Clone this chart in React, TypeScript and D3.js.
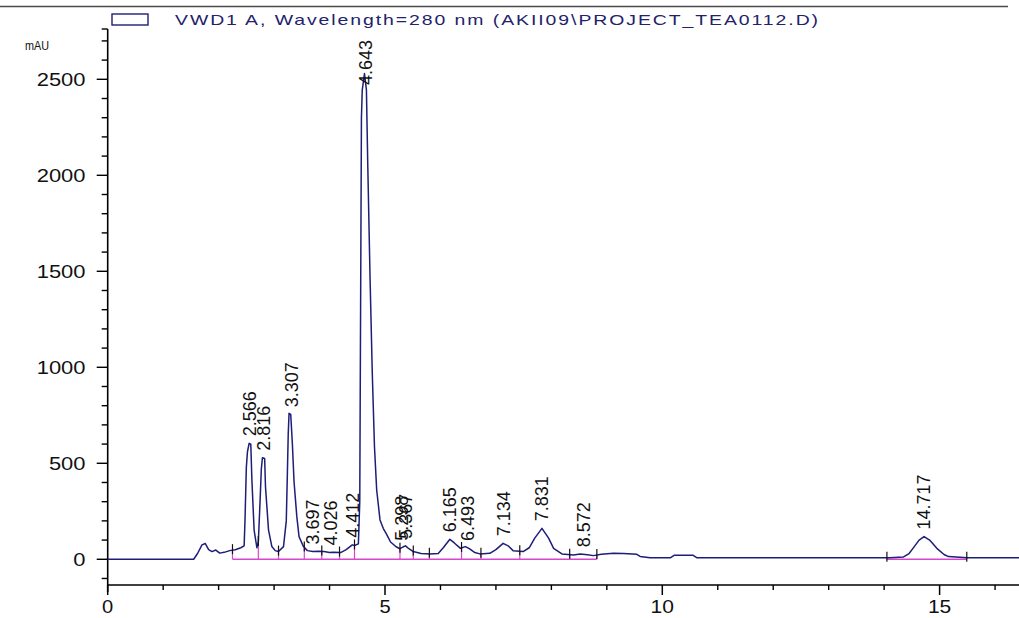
import React from 'react';
import * as d3 from 'd3';

const W = 1019;
const H = 618;

// Chromatogram trace (time in min, signal in mAU)
const times = [
  0, 1.55, 1.62, 1.70, 1.76, 1.82, 1.88, 1.95, 2.02, 2.10, 2.20, 2.30, 2.40, 2.46,
  2.476, 2.50, 2.52, 2.55, 2.58, 2.60, 2.64, 2.69, 2.716, 2.746, 2.77, 2.79, 2.83,
  2.845, 2.90, 2.96, 3.02, 3.08, 3.17, 3.22, 3.24, 3.255, 3.27, 3.30, 3.33, 3.36,
  3.41, 3.45, 3.53, 3.60, 3.70, 3.80, 3.90, 4.00, 4.06, 4.20, 4.30, 4.37, 4.41,
  4.45, 4.52, 4.545, 4.56, 4.575, 4.59, 4.63, 4.665, 4.69, 4.73, 4.77, 4.81, 4.85,
  4.91, 4.97, 5.03, 5.10, 5.20, 5.27, 5.33, 5.37, 5.43, 5.51, 5.65, 5.81, 5.96,
  6.05, 6.17, 6.25, 6.36, 6.45, 6.52, 6.62, 6.71, 6.89, 7.00, 7.13, 7.22, 7.31,
  7.49, 7.60, 7.70, 7.83, 7.95, 8.04, 8.19, 8.40, 8.52, 8.65, 8.76, 8.90, 9.12,
  9.30, 9.54, 9.60, 9.78, 10.15, 10.22, 10.55, 10.62, 14.10, 14.35, 14.45, 14.52,
  14.63, 14.72, 14.82, 14.95, 15.08, 15.16, 15.50, 16.50,
];
const mau = [
  0, 0, 30, 75, 82, 50, 40, 48, 32, 36, 45, 50, 60, 70,
  205, 480, 560, 604, 600, 413, 152, 60, 90, 293, 470, 529, 525,
  378, 152, 66, 45, 40, 66, 200, 450, 650, 760, 755, 600, 404,
  222, 118, 66, 45, 40, 42, 40, 35, 36, 35, 50, 66, 75,
  72, 80, 300, 1310, 2300, 2445, 2530, 2445, 2045, 1472, 977, 587, 361,
  205, 160, 130, 90, 65, 55, 65, 70, 55, 40, 30, 28, 30,
  60, 104, 85, 57, 66, 55, 35, 28, 31, 50, 83, 70, 45,
  40, 60, 110, 161, 110, 57, 28, 22, 28, 24, 19, 26, 31,
  30, 26, 15, 8, 8, 21, 21, 8, 8, 12, 30, 57,
  100, 118, 100, 57, 25, 14, 8, 8,
];

// Peak retention-time labels
const peakTimes = [2.566, 2.816, 3.307, 3.697, 4.026, 4.412, 4.643, 5.298, 5.367, 6.165, 6.493, 7.134, 7.831, 8.572, 14.717];
const peakLabels = ['2.566', '2.816', '3.307', '3.697', '4.026', '4.412', '4.643', '5.298', '5.367', '6.165', '6.493', '7.134', '7.831', '8.572', '14.717'];

// Integration baselines and peak boundaries
const baselineStarts = [2.25, 14.05];
const baselineEnds = [8.82, 15.49];
const boundaryTimes = [2.25, 2.716, 3.08, 3.545, 3.86, 4.18, 4.45, 5.27, 5.51, 5.80, 6.38, 6.73, 7.43, 8.33, 8.82, 14.05, 15.49];

// Axis ticks
const xMajorTicks = [0, 5, 10, 15];
const xMinorTicks = [1, 2, 3, 4, 6, 7, 8, 9, 11, 12, 13, 14, 16];
const yMajorTicks = [0, 500, 1000, 1500, 2000, 2500];
const yMinorTicks = [-100, 100, 200, 300, 400, 600, 700, 800, 900, 1100, 1200, 1300, 1400, 1600, 1700, 1800, 1900, 2100, 2200, 2300, 2400, 2600, 2700];

const legendText = 'VWD1 A, Wavelength=280 nm (AKII09\\PROJECT_TEA0112.D)';
const yUnit = 'mAU';

const TRACE = '#1e1e78';
const PINK = '#d846d0';
const FONT = 'Arial, "Liberation Sans", sans-serif';

function valueAt(t: number): number {
  const i = d3.bisector((d: number) => d).right(times, t);
  if (i <= 0) return mau[0];
  if (i >= times.length) return mau[mau.length - 1];
  const t0 = times[i - 1], t1 = times[i];
  const f = (t - t0) / (t1 - t0);
  return mau[i - 1] + f * (mau[i] - mau[i - 1]);
}

export default function App() {
  const x = d3.scaleLinear().domain([0, 16.5]).range([107.7, 107.7 + 16.5 * 55.46]);
  const y = d3.scaleLinear().domain([-134, 2762]).range([585, 29]);
  const yMax = 2762;

  const pts: [number, number][] = times.map((t, i) => [t, mau[i]]);
  const line = d3.line<[number, number]>().x(d => x(d[0])).y(d => y(d[1]));

  const xAxisY = y(-134);
  const yAxisX = x(0);
  const labelFont = 18;
  const plotTopText = 40;
  const digitW = 12.2;

  return (
    <svg width={W} height={H} style={{ position: 'absolute', left: 0, top: 0, background: '#fff' }}>
      <rect x={0} y={0} width={W} height={H} fill="#fff" />
      {/* top rule */}
      <line x1={0} x2={1008} y1={6.5} y2={6.5} stroke="#4a4a4a" strokeWidth={1.3} />
      {/* legend */}
      <rect x={112} y={14} width={36} height={11} fill="none" stroke={TRACE} strokeWidth={1.4} />
      <text x={175} y={25} fontFamily={FONT} fontSize={15} letterSpacing={1.5} fill="#22226a" textLength={645} lengthAdjust="spacingAndGlyphs">{legendText}</text>
      <text x={25} y={50} fontFamily={FONT} fontSize={13.5} fill="#111" textLength={24} lengthAdjust="spacingAndGlyphs">{yUnit}</text>

      {/* y axis */}
      <line x1={yAxisX} x2={yAxisX} y1={y(yMax)} y2={xAxisY + 7} stroke="#000" strokeWidth={1.6} />
      <line x1={yAxisX - 6} x2={yAxisX} y1={y(yMax)} y2={y(yMax)} stroke="#000" strokeWidth={1.4} />
      {yMajorTicks.map(v => {
        const s = String(v);
        const tl = s.length * digitW;
        return (
          <g key={'ym' + v}>
            <line x1={yAxisX - 11} x2={yAxisX} y1={y(v)} y2={y(v)} stroke="#000" strokeWidth={1.4} />
            <text x={85.5 - tl} y={y(v)} dy="0.36em" fontFamily={FONT} fontSize={18} fill="#111"
              textLength={tl} lengthAdjust="spacingAndGlyphs">{s}</text>
          </g>
        );
      })}
      {yMinorTicks.map(v => (
        <line key={'yn' + v} x1={yAxisX - 6} x2={yAxisX} y1={y(v)} y2={y(v)} stroke="#000" strokeWidth={1.4} />
      ))}

      {/* x axis */}
      <line x1={yAxisX} x2={W} y1={xAxisY} y2={xAxisY} stroke="#000" strokeWidth={1.6} />
      {xMajorTicks.map(v => {
        const s = String(v);
        const tl = s.length * digitW - 1;
        return (
          <g key={'xm' + v}>
            <line x1={x(v)} x2={x(v)} y1={xAxisY} y2={xAxisY + 10} stroke="#000" strokeWidth={1.5} />
            <text x={x(v) - tl / 2} y={613} fontFamily={FONT} fontSize={18} fill="#111"
              textLength={tl} lengthAdjust="spacingAndGlyphs">{s}</text>
          </g>
        );
      })}
      {xMinorTicks.map(v => (
        <line key={'xn' + v} x1={x(v)} x2={x(v)} y1={xAxisY} y2={xAxisY + 5} stroke="#000" strokeWidth={1.4} />
      ))}

      {/* integration baselines */}
      {baselineStarts.map((s, i) => (
        <line key={'bl' + i} x1={x(s)} x2={x(baselineEnds[i])} y1={y(0)} y2={y(0)} stroke={PINK} strokeWidth={1.5} />
      ))}
      {boundaryTimes.map((t, i) => (
        <line key={'bd' + i} x1={x(t)} x2={x(t)} y1={y(0)} y2={y(valueAt(t))} stroke={PINK} strokeWidth={1.2} />
      ))}

      {/* trace */}
      <path d={line(pts) || ''} fill="none" stroke={TRACE} strokeWidth={1.5} strokeLinejoin="round" />

      {/* boundary ticks */}
      {boundaryTimes.map((t, i) => {
        const yy = y(valueAt(t));
        return <line key={'bt' + i} x1={x(t)} x2={x(t)} y1={yy - 6} y2={yy + 4} stroke="#111" strokeWidth={1.2} />;
      })}

      {/* peak labels */}
      {peakTimes.map((t, i) => {
        let apex = valueAt(t);
        times.forEach((tt, j) => { if (Math.abs(tt - t) <= 0.03 && mau[j] > apex) apex = mau[j]; });
        const len = peakLabels[i].replace('.', '').length * 0.556 * labelFont + 0.278 * labelFont;
        const bottom = Math.max(y(apex) - 7, plotTopText + len);
        return (
          <text key={'pl' + i} transform={`translate(${x(t)},${bottom}) rotate(-90)`} dy="0.36em"
            fontFamily={FONT} fontSize={labelFont} fill="#111">{peakLabels[i]}</text>
        );
      })}
    </svg>
  );
}
